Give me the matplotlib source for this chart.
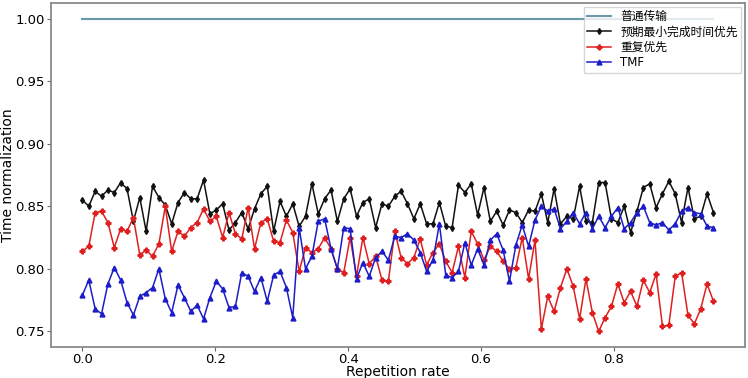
import numpy as np
import matplotlib
matplotlib.use("Agg")
import matplotlib.pyplot as plt

# fonts: latin from DejaVu, chinese falls back to Noto CJK
plt.rcParams['font.family'] = ['DejaVu Sans', 'Noto Sans CJK SC']

# repetition rate, 100 evenly spaced samples
rate = np.linspace(0.0, 0.95, 100)

labels = ["普通传输", "预期最小完成时间优先", "重复优先", "TMF"]

normal = [1.0] * 100

min_time_first = [
    0.855, 0.850, 0.862, 0.858, 0.863, 0.861, 0.869, 0.864, 0.838, 0.857,
    0.830, 0.866, 0.857, 0.851, 0.836, 0.853, 0.861, 0.856, 0.856, 0.871,
    0.844, 0.847, 0.852, 0.831, 0.837, 0.845, 0.832, 0.848, 0.860, 0.866,
    0.830, 0.854, 0.842, 0.852, 0.834, 0.842, 0.868, 0.844, 0.856, 0.863,
    0.838, 0.856, 0.864, 0.842, 0.853, 0.856, 0.833, 0.852, 0.850, 0.858,
    0.862, 0.852, 0.840, 0.852, 0.836, 0.836, 0.853, 0.834, 0.833, 0.867,
    0.861, 0.868, 0.843, 0.865, 0.838, 0.846, 0.835, 0.847, 0.845, 0.837,
    0.847, 0.846, 0.860, 0.837, 0.864, 0.836, 0.842, 0.840, 0.866, 0.838,
    0.837, 0.869, 0.869, 0.840, 0.837, 0.850, 0.829, 0.846, 0.865, 0.868,
    0.849, 0.860, 0.870, 0.860, 0.837, 0.865, 0.840, 0.842, 0.860, 0.845,
]

repeat_first = [
    0.814, 0.818, 0.845, 0.846, 0.837, 0.817, 0.832, 0.830, 0.841, 0.811,
    0.815, 0.810, 0.820, 0.850, 0.814, 0.830, 0.826, 0.833, 0.837, 0.848,
    0.838, 0.842, 0.825, 0.845, 0.828, 0.824, 0.849, 0.816, 0.837, 0.840,
    0.822, 0.821, 0.839, 0.829, 0.798, 0.817, 0.813, 0.816, 0.825, 0.816,
    0.800, 0.797, 0.825, 0.794, 0.825, 0.804, 0.810, 0.791, 0.790, 0.830,
    0.809, 0.804, 0.809, 0.824, 0.803, 0.813, 0.820, 0.806, 0.797, 0.818,
    0.793, 0.830, 0.820, 0.807, 0.818, 0.814, 0.806, 0.800, 0.801, 0.825,
    0.792, 0.823, 0.752, 0.778, 0.766, 0.785, 0.800, 0.786, 0.760, 0.792,
    0.765, 0.750, 0.761, 0.770, 0.788, 0.773, 0.782, 0.770, 0.791, 0.781,
    0.796, 0.754, 0.755, 0.794, 0.797, 0.763, 0.756, 0.768, 0.788, 0.774,
]

tmf = [
    0.779, 0.791, 0.768, 0.764, 0.788, 0.801, 0.791, 0.773, 0.763, 0.778,
    0.781, 0.785, 0.800, 0.776, 0.765, 0.787, 0.777, 0.766, 0.771, 0.760,
    0.777, 0.790, 0.784, 0.769, 0.770, 0.797, 0.794, 0.782, 0.793, 0.774,
    0.795, 0.798, 0.785, 0.761, 0.833, 0.800, 0.810, 0.838, 0.840, 0.816,
    0.800, 0.833, 0.832, 0.792, 0.805, 0.794, 0.809, 0.814, 0.807, 0.826,
    0.825, 0.828, 0.823, 0.813, 0.798, 0.807, 0.836, 0.795, 0.793, 0.798,
    0.821, 0.803, 0.816, 0.803, 0.823, 0.828, 0.815, 0.790, 0.819, 0.835,
    0.818, 0.839, 0.850, 0.846, 0.848, 0.832, 0.838, 0.845, 0.836, 0.845,
    0.832, 0.842, 0.833, 0.842, 0.849, 0.832, 0.837, 0.845, 0.850, 0.837,
    0.835, 0.837, 0.831, 0.836, 0.846, 0.849, 0.845, 0.844, 0.834, 0.833,
]

fig = plt.figure(figsize=(7.48, 3.78), dpi=100)
ax = fig.add_axes([0.068, 0.082, 0.928, 0.910])

ax.plot(rate, normal, color='#6b98a8', lw=1.5, label=labels[0])
ax.plot(rate, min_time_first, color='#111111', lw=1.1, marker='d', ms=3, label=labels[1])
ax.plot(rate, repeat_first, color='#e02020', lw=1.1, marker='P', ms=3.5, label=labels[2])
ax.plot(rate, tmf, color='#1c1cc8', lw=1.1, marker='^', ms=3.5, label=labels[3])

ax.set_xlim(-0.0475, 0.9975)
ax.set_ylim(0.7375, 1.0125)
ax.set_xticks([0.0, 0.2, 0.4, 0.6, 0.8])
ax.set_yticks([0.75, 0.80, 0.85, 0.90, 0.95, 1.00])
ax.yaxis.set_major_formatter(matplotlib.ticker.FormatStrFormatter('%.2f'))
ax.tick_params(labelsize=9.5, length=3, pad=1.5, color='#666666')

# labels sit tight against the figure edge, place them by hand
ax.set_xlabel("Repetition rate", fontsize=10)
ax.xaxis.set_label_coords(0.5, -0.052)
ax.set_ylabel("Time normalization", fontsize=10)
ax.yaxis.set_label_coords(-0.052, 0.5)

for s in ax.spines.values():
    s.set_color('#8a8a8a')
    s.set_linewidth(1.3)

ax.legend(loc='upper right', fontsize=8.5, frameon=True, fancybox=False,
          edgecolor='#cccccc', borderpad=0.3, labelspacing=0.2,
          handlelength=2.0, borderaxespad=0.3)

fig.savefig("out.png", dpi=100)
